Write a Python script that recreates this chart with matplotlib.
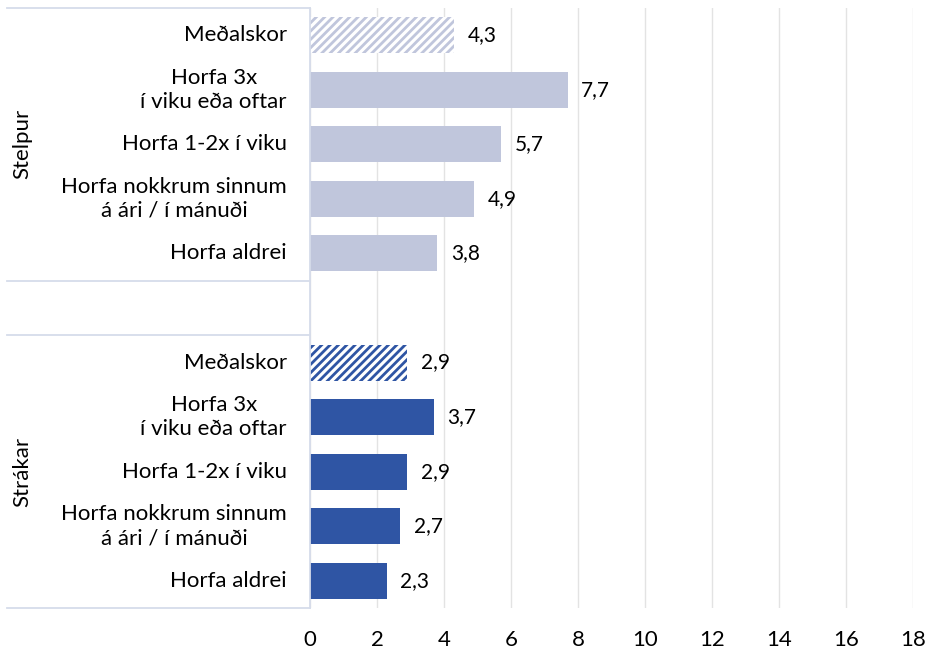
import matplotlib
matplotlib.use("Agg")
import matplotlib.pyplot as plt
import matplotlib.transforms as mtransforms

plt.rcParams['font.family'] = ['Lato', 'DejaVu Sans']
plt.rcParams['hatch.linewidth'] = 2.0

groups = ["Stelpur", "Strákar"]
categories = ["Meðalskor", "Horfa 3x\ní viku eða oftar", "Horfa 1-2x í viku",
              "Horfa nokkrum sinnum\ná ári / í mánuði", "Horfa aldrei"]
stelpur_values = [4.3, 7.7, 5.7, 4.9, 3.8]
strakar_values = [2.9, 3.7, 2.9, 2.7, 2.3]
group_colors = ["#c0c6dc", "#2f55a4"]
xticks = [0, 2, 4, 6, 8, 10, 12, 14, 16, 18]

fig = plt.figure(figsize=(9.28, 6.49), dpi=100)
W, H = 928, 649
ax = fig.add_axes([310 / W, 1 - 608 / H, (913 - 310) / W, (608 - 8) / H])

blend = mtransforms.blended_transform_factory(ax.transAxes, ax.transData)
label_fs = 16

for gi, (gname, vals, col) in enumerate(zip(groups, [stelpur_values, strakar_values], group_colors)):
    offset = gi * 6
    for ci, (cat, v) in enumerate(zip(categories, vals)):
        y = offset + ci
        if ci == 0:
            ax.barh(y, v, height=0.66, color="white", edgecolor=col, linewidth=0, hatch="////")
        else:
            ax.barh(y, v, height=0.66, color=col, linewidth=0)
        ax.text(v + 0.4, y, f"{v:.1f}".replace(".", ","), va="center", ha="left",
                fontsize=15, color="#000000")
        ax.text(-23 / 603, y, cat, transform=blend, ha="right", va="center",
                multialignment="center", fontsize=label_fs, color="#000000",
                linespacing=1.25)
    ax.text(-0.4776, offset + 2, gname, transform=blend, rotation=90,
            ha="center", va="center", fontsize=label_fs, color="#000000")

for yb in [-0.5, 4.5, 5.5, 10.5]:
    ax.plot([-0.5025, 0], [yb, yb], transform=blend, color="#d6dcea",
            linewidth=1.3, clip_on=False)

ax.set_xlim(0, 18)
ax.set_ylim(10.5, -0.5)
ax.set_xticks(xticks)
ax.set_xticklabels([str(t) for t in xticks], fontsize=label_fs)
ax.set_yticks([])
ax.tick_params(axis="x", length=0, pad=16)
ax.grid(axis="x", color="#e3e3e3", linewidth=1)
ax.set_axisbelow(True)
for s in ["top", "right", "bottom"]:
    ax.spines[s].set_visible(False)
ax.spines["left"].set_color("#d6dcea")
ax.spines["left"].set_linewidth(1.3)

fig.savefig("out.png", dpi=100)
